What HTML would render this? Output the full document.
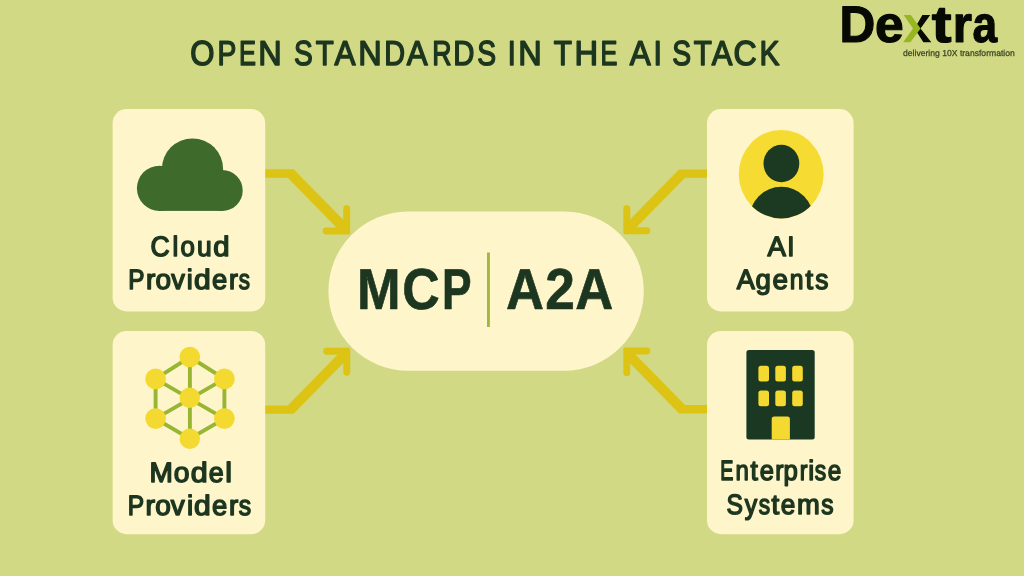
<!DOCTYPE html>
<html>
<head>
<meta charset="utf-8">
<title>Open Standards in the AI Stack</title>
<style>
  html, body { margin: 0; padding: 0; background: #d2d985; }
  body { width: 1024px; height: 576px; overflow: hidden; font-family: "Liberation Sans", sans-serif; }
  svg { display: block; }
  text { font-family: "Liberation Sans", sans-serif; text-rendering: geometricPrecision; }
  .t { fill: #1d361f; stroke: #1d361f; stroke-linejoin: round; }
</style>
</head>
<body>
<svg width="1024" height="576" viewBox="0 0 1024 576">
  <defs>
    <filter id="soft" filterUnits="userSpaceOnUse" x="0" y="0" width="1024" height="576" color-interpolation-filters="sRGB">
      <feGaussianBlur stdDeviation="0.55"/>
    </filter>
  </defs>
  <rect x="0" y="0" width="1024" height="576" fill="#d2d985"/>
  <g filter="url(#soft)">
  <rect x="0" y="0" width="1024" height="576" fill="#d2d985"/>


  <!-- arrows -->
  <g fill="#dcc314">
    <polygon points="264.00,169.20 293.60,169.20 346.70,223.36 346.70,231.00 339.96,231.00 287.80,177.80 264.00,177.80"/>
    <path d="M343.25,208.65 A3.45,3.45 0 0 1 350.15,208.65 V232.85 A1.6,1.6 0 0 1 348.55,234.45 H326.05 A3.45,3.45 0 0 1 326.05,227.55 H343.25 Z"/>
    <polygon points="264.00,413.80 293.60,413.80 346.80,359.54 346.80,351.30 340.94,351.30 287.80,405.50 264.00,405.50"/>
    <path d="M343.35,372.35 A3.45,3.45 0 0 0 350.25,372.35 V349.45 A1.6,1.6 0 0 0 348.65,347.85 H326.65 A3.45,3.45 0 0 0 326.65,354.75 H343.35 Z"/>
    <polygon points="709.00,169.50 679.00,169.50 626.80,222.74 626.80,230.80 633.04,230.80 685.00,177.80 709.00,177.80"/>
    <path d="M630.25,208.65 A3.45,3.45 0 0 0 623.35,208.65 V232.65 A1.6,1.6 0 0 0 624.95,234.25 H646.85 A3.45,3.45 0 0 0 646.85,227.35 H630.25 Z"/>
    <polygon points="709.00,413.40 679.20,413.40 626.80,359.95 626.80,351.00 631.96,351.00 685.00,405.10 709.00,405.10"/>
    <path d="M630.25,372.65 A3.45,3.45 0 0 1 623.35,372.65 V349.15 A1.6,1.6 0 0 1 624.95,347.55 H646.85 A3.45,3.45 0 0 1 646.85,354.45 H630.25 Z"/>
  </g>

  <!-- cards -->
  <g fill="#fef5cb">
    <rect x="112.6" y="109.1" width="152.6" height="202.3" rx="14" ry="14"/>
    <rect x="112.6" y="330.9" width="152.6" height="203.3" rx="14" ry="14"/>
    <rect x="707" y="109.1" width="146.6" height="202.3" rx="14" ry="14"/>
    <rect x="707" y="330.9" width="146.6" height="203.3" rx="14" ry="14"/>
    <rect x="328.4" y="211.4" width="315.4" height="159.3" rx="79.65" ry="79.65"/>
  </g>

  <!-- cloud -->
  <g fill="#3e6a2b">
    <circle cx="192.5" cy="169" r="30.6"/>
    <circle cx="159.5" cy="188.3" r="22.6"/>
    <circle cx="222.2" cy="190.4" r="20.5"/>
    <rect x="159.5" y="180" width="62.7" height="30.9"/>
  </g>

  <!-- model graph -->
  <g stroke="#98b533" stroke-width="3.9" fill="none" stroke-linecap="round">
    <polygon points="189.8,357 224.4,378.9 224.4,418.6 189.8,438.7 155.6,418.6 155.6,378.9"/>
    <line x1="189.9" y1="357" x2="189.9" y2="438.7"/>
    <line x1="155.6" y1="378.9" x2="224.4" y2="418.6"/>
    <line x1="224.4" y1="378.9" x2="155.6" y2="418.6"/>
  </g>
  <g fill="#f4d930">
    <circle cx="189.8" cy="357" r="10.35"/>
    <circle cx="155.6" cy="378.9" r="10.35"/>
    <circle cx="224.4" cy="378.9" r="10.35"/>
    <circle cx="189.8" cy="397.7" r="10.2"/>
    <circle cx="155.6" cy="418.6" r="10.35"/>
    <circle cx="224.4" cy="418.6" r="10.35"/>
    <circle cx="189.8" cy="438.7" r="10.2"/>
  </g>

  <!-- agent -->
  <defs>
    <clipPath id="agentclip"><ellipse cx="781.2" cy="174.2" rx="42.4" ry="44.2"/></clipPath>
  </defs>
  <ellipse cx="781.2" cy="174.2" rx="42.4" ry="44.2" fill="#f6db33"/>
  <g fill="#1c3921">
    <ellipse cx="781.4" cy="163.5" rx="17.9" ry="18.8"/>
    <circle cx="781.4" cy="218.8" r="32" clip-path="url(#agentclip)"/>
  </g>

  <!-- building -->
  <rect x="746.4" y="350" width="68.3" height="89.6" rx="2.5" fill="#1b3922"/>
  <g fill="#f4d930">
    <rect x="758.4" y="365.8" width="10.6" height="15.6" rx="2.5"/>
    <rect x="775.3" y="365.8" width="10.6" height="15.6" rx="2.5"/>
    <rect x="792.2" y="365.8" width="10.6" height="15.6" rx="2.5"/>
    <rect x="758.4" y="390.6" width="10.6" height="15.6" rx="2.5"/>
    <rect x="775.3" y="390.6" width="10.6" height="15.6" rx="2.5"/>
    <rect x="792.2" y="390.6" width="10.6" height="15.6" rx="2.5"/>
    <path d="M771.7,439.6 V419 a2.5,2.5 0 0 1 2.5,-2.5 H787.4 a2.5,2.5 0 0 1 2.5,2.5 V439.6 Z"/>
  </g>


  <rect x="487" y="252.5" width="2.9" height="74.5" fill="#a0b840"/>

  <!-- text -->
  <g class="t" font-size="34.6" stroke-width="1.5">
    <text y="65"><tspan x="190.17" textLength="24.26" lengthAdjust="spacingAndGlyphs">O</tspan><tspan x="217.50" textLength="18.84" lengthAdjust="spacingAndGlyphs">P</tspan><tspan x="239.08" textLength="16.99" lengthAdjust="spacingAndGlyphs">E</tspan><tspan x="258.14" textLength="23.48" lengthAdjust="spacingAndGlyphs">N</tspan></text>
    <text y="65"><tspan x="294.00" textLength="18.78" lengthAdjust="spacingAndGlyphs">S</tspan><tspan x="315.85" textLength="18.01" lengthAdjust="spacingAndGlyphs">T</tspan><tspan x="334.57" textLength="21.02" lengthAdjust="spacingAndGlyphs">A</tspan><tspan x="358.14" textLength="23.48" lengthAdjust="spacingAndGlyphs">N</tspan><tspan x="384.22" textLength="20.80" lengthAdjust="spacingAndGlyphs">D</tspan><tspan x="406.71" textLength="20.86" lengthAdjust="spacingAndGlyphs">A</tspan><tspan x="432.16" textLength="19.30" lengthAdjust="spacingAndGlyphs">R</tspan><tspan x="453.19" textLength="21.18" lengthAdjust="spacingAndGlyphs">D</tspan><tspan x="477.16" textLength="18.86" lengthAdjust="spacingAndGlyphs">S</tspan></text>
    <text y="65"><tspan x="507.76" textLength="8.02" lengthAdjust="spacingAndGlyphs">I</tspan><tspan x="518.14" textLength="23.48" lengthAdjust="spacingAndGlyphs">N</tspan></text>
    <text y="65"><tspan x="553.85" textLength="18.20" lengthAdjust="spacingAndGlyphs">T</tspan><tspan x="574.61" textLength="23.60" lengthAdjust="spacingAndGlyphs">H</tspan><tspan x="600.51" textLength="16.93" lengthAdjust="spacingAndGlyphs">E</tspan></text>
    <text y="65"><tspan x="629.65" textLength="20.96" lengthAdjust="spacingAndGlyphs">A</tspan><tspan x="653.52" textLength="8.44" lengthAdjust="spacingAndGlyphs">I</tspan></text>
    <text y="65"><tspan x="672.16" textLength="18.86" lengthAdjust="spacingAndGlyphs">S</tspan><tspan x="693.76" textLength="18.11" lengthAdjust="spacingAndGlyphs">T</tspan><tspan x="711.64" textLength="20.64" lengthAdjust="spacingAndGlyphs">A</tspan><tspan x="733.52" textLength="23.21" lengthAdjust="spacingAndGlyphs">C</tspan><tspan x="759.53" textLength="20.00" lengthAdjust="spacingAndGlyphs">K</tspan></text>
  </g>
  <g class="t" font-size="28" stroke-width="1.5">
    <text y="256"><tspan x="150.38" textLength="19.17" lengthAdjust="spacingAndGlyphs">C</tspan><tspan x="172.58" textLength="5.77" lengthAdjust="spacingAndGlyphs">l</tspan><tspan x="180.60" textLength="14.34" lengthAdjust="spacingAndGlyphs">o</tspan><tspan x="197.10" textLength="14.72" lengthAdjust="spacingAndGlyphs">u</tspan><tspan x="213.32" textLength="16.28" lengthAdjust="spacingAndGlyphs">d</tspan></text>
    <text y="289"><tspan x="128.37" textLength="16.22" lengthAdjust="spacingAndGlyphs">P</tspan><tspan x="146.14" textLength="9.35" lengthAdjust="spacingAndGlyphs">r</tspan><tspan x="155.50" textLength="15.53" lengthAdjust="spacingAndGlyphs">o</tspan><tspan x="171.17" textLength="13.57" lengthAdjust="spacingAndGlyphs">v</tspan><tspan x="186.68" textLength="6.03" lengthAdjust="spacingAndGlyphs">i</tspan><tspan x="194.03" textLength="16.69" lengthAdjust="spacingAndGlyphs">d</tspan><tspan x="211.93" textLength="15.24" lengthAdjust="spacingAndGlyphs">e</tspan><tspan x="229.10" textLength="8.90" lengthAdjust="spacingAndGlyphs">r</tspan><tspan x="238.70" textLength="11.22" lengthAdjust="spacingAndGlyphs">s</tspan></text>
    <text y="482"><tspan x="149.43" textLength="23.37" lengthAdjust="spacingAndGlyphs">M</tspan><tspan x="173.76" textLength="15.75" lengthAdjust="spacingAndGlyphs">o</tspan><tspan x="190.71" textLength="16.91" lengthAdjust="spacingAndGlyphs">d</tspan><tspan x="208.68" textLength="14.94" lengthAdjust="spacingAndGlyphs">e</tspan><tspan x="225.15" textLength="6.78" lengthAdjust="spacingAndGlyphs">l</tspan></text>
    <text y="515"><tspan x="127.77" textLength="16.36" lengthAdjust="spacingAndGlyphs">P</tspan><tspan x="145.59" textLength="9.53" lengthAdjust="spacingAndGlyphs">r</tspan><tspan x="155.13" textLength="15.57" lengthAdjust="spacingAndGlyphs">o</tspan><tspan x="170.79" textLength="13.90" lengthAdjust="spacingAndGlyphs">v</tspan><tspan x="186.99" textLength="6.17" lengthAdjust="spacingAndGlyphs">i</tspan><tspan x="194.03" textLength="16.69" lengthAdjust="spacingAndGlyphs">d</tspan><tspan x="211.93" textLength="15.24" lengthAdjust="spacingAndGlyphs">e</tspan><tspan x="228.95" textLength="9.20" lengthAdjust="spacingAndGlyphs">r</tspan><tspan x="238.76" textLength="12.35" lengthAdjust="spacingAndGlyphs">s</tspan></text>
    <text y="256"><tspan x="767.52" textLength="18.45" lengthAdjust="spacingAndGlyphs">A</tspan><tspan x="787.19" textLength="7.21" lengthAdjust="spacingAndGlyphs">I</tspan></text>
    <text y="289"><tspan x="736.74" textLength="18.13" lengthAdjust="spacingAndGlyphs">A</tspan><tspan x="755.55" textLength="15.39" lengthAdjust="spacingAndGlyphs">g</tspan><tspan x="772.39" textLength="15.49" lengthAdjust="spacingAndGlyphs">e</tspan><tspan x="789.72" textLength="13.74" lengthAdjust="spacingAndGlyphs">n</tspan><tspan x="805.59" textLength="7.61" lengthAdjust="spacingAndGlyphs">t</tspan><tspan x="815.25" textLength="13.15" lengthAdjust="spacingAndGlyphs">s</tspan></text>
    <text y="480"><tspan x="720.16" textLength="13.16" lengthAdjust="spacingAndGlyphs">E</tspan><tspan x="735.59" textLength="13.32" lengthAdjust="spacingAndGlyphs">n</tspan><tspan x="750.54" textLength="7.34" lengthAdjust="spacingAndGlyphs">t</tspan><tspan x="759.64" textLength="14.20" lengthAdjust="spacingAndGlyphs">e</tspan><tspan x="775.33" textLength="8.26" lengthAdjust="spacingAndGlyphs">r</tspan><tspan x="783.62" textLength="14.33" lengthAdjust="spacingAndGlyphs">p</tspan><tspan x="799.63" textLength="7.73" lengthAdjust="spacingAndGlyphs">r</tspan><tspan x="808.26" textLength="5.94" lengthAdjust="spacingAndGlyphs">i</tspan><tspan x="814.85" textLength="11.41" lengthAdjust="spacingAndGlyphs">s</tspan><tspan x="827.67" textLength="13.53" lengthAdjust="spacingAndGlyphs">e</tspan></text>
    <text y="514"><tspan x="726.39" textLength="16.43" lengthAdjust="spacingAndGlyphs">S</tspan><tspan x="744.83" textLength="12.45" lengthAdjust="spacingAndGlyphs">y</tspan><tspan x="758.86" textLength="11.36" lengthAdjust="spacingAndGlyphs">s</tspan><tspan x="771.44" textLength="7.72" lengthAdjust="spacingAndGlyphs">t</tspan><tspan x="780.85" textLength="14.54" lengthAdjust="spacingAndGlyphs">e</tspan><tspan x="797.04" textLength="22.78" lengthAdjust="spacingAndGlyphs">m</tspan><tspan x="821.30" textLength="12.26" lengthAdjust="spacingAndGlyphs">s</tspan></text>
  </g>
  <g class="t" font-size="57.8" font-weight="bold" stroke-width="0.7">
    <text y="309"><tspan x="357.12" textLength="43.57" lengthAdjust="spacingAndGlyphs">M</tspan><tspan x="402.36" textLength="37.37" lengthAdjust="spacingAndGlyphs">C</tspan><tspan x="441.99" textLength="29.57" lengthAdjust="spacingAndGlyphs">P</tspan></text>
    <text y="309"><tspan x="505.92" textLength="37.96" lengthAdjust="spacingAndGlyphs">A</tspan><tspan x="545.13" textLength="29.61" lengthAdjust="spacingAndGlyphs">2</tspan><tspan x="575.18" textLength="38.06" lengthAdjust="spacingAndGlyphs">A</tspan></text>
  </g>
  <g fill="#070903" stroke="#070903" stroke-width="1.2" stroke-linejoin="round" font-weight="bold" font-size="51.5">
    <text y="42"><tspan x="839.47" textLength="35.75" lengthAdjust="spacingAndGlyphs">D</tspan><tspan x="874.88" textLength="28.69" lengthAdjust="spacingAndGlyphs">e</tspan></text>
    <text y="42"><tspan x="931.65" textLength="19.80" lengthAdjust="spacingAndGlyphs">t</tspan><tspan x="952.86" textLength="19.20" lengthAdjust="spacingAndGlyphs">r</tspan><tspan x="972.38" textLength="24.60" lengthAdjust="spacingAndGlyphs">a</tspan></text>
  </g>
  <g fill="#384321" stroke="#384321" stroke-width="0.25" font-size="8.7">
    <text y="56"><tspan x="903.06" textLength="111.74" lengthAdjust="spacingAndGlyphs">delivering 10X transformation</tspan></text>
  </g>

  <!-- logo -->
  <g fill="#070903">
    <path d="M922.4,15.1 H930.2 L920.5,28.6 L931.3,42.2 H923.4 L914.5,28.6 Z"/>
  </g>
  <path d="M903.6,15.1 H910.9 L920.6,28.6 L910.4,42.2 H903.1 L913,28.6 Z" fill="#97b722"/>
  </g>
</svg>
</body>
</html>
